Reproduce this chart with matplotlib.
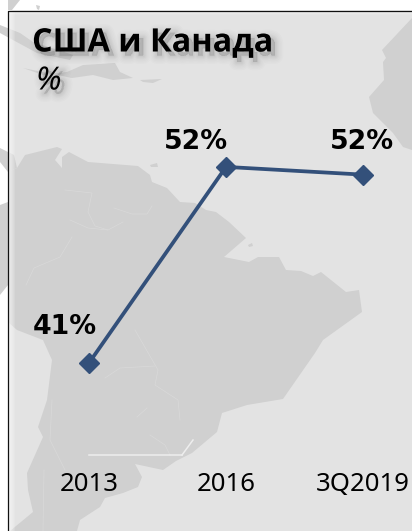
import matplotlib
matplotlib.use('Agg')
import matplotlib.pyplot as plt
import matplotlib.patheffects as pe
from matplotlib.patches import Polygon, Rectangle

# chart values
categories = ['2013', '2016', '3Q2019']
values = [41, 52.4, 51.95]
value_labels = ['41%', '52%', '52%']
title = 'США и Канада'
subtitle = '%'

# background map, outlines in picture pixels
south_america = [(8, 172), (17, 168), (25, 155), (57, 147), (62, 149), (55, 160), (62, 168), (62, 157), (69, 152),
                 (88, 162), (138, 166), (150, 175), (152, 182), (167, 188), (180, 202), (195, 203), (206, 210),
                 (216, 212), (229, 222), (246, 238), (224, 257), (249, 262), (258, 257), (279, 257), (286, 270),
                 (301, 271), (313, 276), (321, 272), (346, 292), (359, 290), (362, 312), (323, 340), (315, 353),
                 (283, 399), (247, 405), (222, 413), (217, 432), (192, 453), (176, 461), (163, 470), (135, 464),
                 (142, 477), (138, 487), (123, 493), (105, 498), (100, 507), (80, 520), (77, 531), (10, 531),
                 (33, 512), (28, 490), (27, 473), (43, 437), (38, 427), (47, 400), (52, 360), (43, 340), (17, 330),
                 (8, 322)]
africa = [(412, 18), (382, 50), (386, 58), (383, 62), (384, 80), (369, 97), (373, 113), (393, 133), (403, 147),
          (412, 150)]
islands = [
    [(0, 25), (20, 33), (33, 42), (73, 55), (70, 60), (37, 53), (13, 40), (0, 33)],
    [(23, 68), (43, 75), (67, 72), (83, 65), (115, 63), (120, 72), (133, 78), (113, 80), (93, 75), (72, 78)],
    [(140, 80), (162, 79), (153, 83), (143, 82)],
    [(150, 165), (157, 163), (158, 167), (151, 167)],
    [(0, 148), (14, 155), (17, 168), (8, 172), (0, 162)],
    [(0, 205), (8, 202), (8, 285), (0, 295)],
    [(8, 0), (20, 0), (12, 10), (8, 10)],
    [(36, 5), (40, 6), (39, 10), (37, 9)],
    [(248, 245), (252, 243), (253, 246), (249, 247)],
]
borders = [
    [(65, 190), (92, 193), (88, 212), (95, 226), (108, 230), (123, 222)],
    [(70, 220), (88, 228), (108, 230)],
    [(114, 208), (132, 214), (147, 214), (152, 206)],
    [(72, 237), (60, 257), (34, 268), (26, 285)],
    [(135, 330), (158, 370), (155, 385), (178, 400), (180, 420)],
    [(105, 378), (120, 368), (155, 366)],
    [(150, 435), (165, 445), (170, 455)],
    [(65, 470), (50, 440), (52, 400)],
    [(44, 470), (43, 531)],
    [(147, 408), (137, 417)],
]

fig = plt.figure(figsize=(4.12, 5.31), dpi=100, facecolor='white')

# map layer
map_ax = fig.add_axes([0, 0, 1, 1])
map_ax.set_xlim(0, 412)
map_ax.set_ylim(531, 0)
map_ax.axis('off')
map_ax.add_patch(Rectangle((8, 10), 404, 521, fc='#e3e3e3', ec='none'))
for shape in [south_america, africa] + islands:
    map_ax.add_patch(Polygon(shape, fc='#d0d0d0', ec='none'))
for b in borders:
    map_ax.plot(*zip(*b), color='#d9d9d9', lw=0.5)
map_ax.plot([89, 182], [455, 455], color='#eeeeee', lw=1.1)
map_ax.plot([193, 182], [440, 455], color='#eeeeee', lw=1.1)

# soft inner shadow along the frame
for i in range(7):
    map_ax.add_patch(Rectangle((8, 10), 7 - i, 521, fc='white', ec='none', alpha=0.13))
    map_ax.add_patch(Rectangle((8, 10), 404, 5 - i * 0.7, fc='white', ec='none', alpha=0.1))
map_ax.plot([8, 8, 412], [531, 10.5, 10.5], color='#111111', lw=0.9)

# line chart
ax = fig.add_axes([0, 69 / 531, 1, 362 / 531])
ax.patch.set_alpha(0)
ax.set_xlim(-89 / 137, 323 / 137)
ax.set_ylim(35.24, 56.29)
x = list(range(len(categories)))
ax.plot(x, values, color='#33507a', lw=2.7, marker='D', ms=10, mec='#33507a', solid_joinstyle='round')
ax.set_xticks(x)
ax.set_xticklabels(categories, fontsize=18.5, family='Noto Sans', color='black')
ax.tick_params(axis='x', length=0, pad=7.5)
ax.set_yticks([])
for s in ax.spines.values():
    s.set_visible(False)

offsets = [(-24, 36), (-30, 25), (-1, 33)]
for xi, v, lab, off in zip(x, values, value_labels, offsets):
    ax.annotate(lab, (xi, v), xytext=(off[0] * 0.72, off[1] * 0.72), textcoords='offset points',
                ha='center', va='center', fontsize=19.3, fontweight='bold', family='DejaVu Sans',
                color='black', annotation_clip=False)

# text with blurred drop shadow
shadow = [pe.Stroke(linewidth=w, foreground='black', alpha=0.012, offset=(3, -3)) for w in (12, 10, 8, 6, 5, 4, 3, 2, 1)]
shadow.append(pe.Normal())
map_ax.text(32, 43, title, fontsize=23.3, fontweight='bold', family='Open Sans', ha='left', va='center',
            color='black', path_effects=shadow, zorder=5)
map_ax.text(36, 81, subtitle, fontsize=23, style='italic', family='Noto Sans', ha='left', va='center',
            color='black', path_effects=shadow, zorder=5)

fig.savefig('out.png', dpi=100)
